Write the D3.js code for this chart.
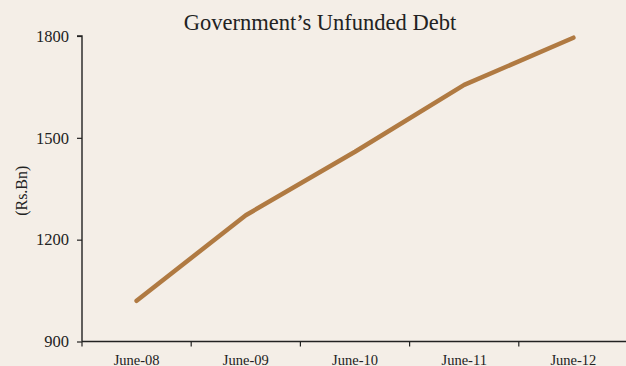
<!DOCTYPE html>
<html>
<head>
<meta charset="utf-8">
<script src="https://cdn.jsdelivr.net/npm/d3@7"></script>
<style>
  html, body { margin: 0; padding: 0; background: #f4eee7; }
  svg { display: block; }
  text { font-family: "Liberation Serif", "Times New Roman", serif; fill: #222; }
</style>
</head>
<body>
<svg id="chart" width="626" height="366"></svg>
<script>
// Government's unfunded debt, Rs. billions, at end-June
const periods = ["June-08", "June-09", "June-10", "June-11", "June-12"];
const debt = [1020, 1272, 1459, 1656, 1795];
const yTicks = [900, 1200, 1500, 1800];

const W = 626, H = 366;
const plotLeft = 82, plotRight = 628, plotTop = 36, plotBottom = 341.5;

const svg = d3.select("#chart");
svg.append("rect").attr("width", W).attr("height", H).attr("fill", "#f4eee7");

const x = d3.scaleBand().domain(periods).range([plotLeft, plotRight]);
const y = d3.scaleLinear().domain([900, 1800]).range([plotBottom, plotTop]);

// Title
svg.append("text")
  .attr("x", 320).attr("y", 30)
  .attr("text-anchor", "middle")
  .style("font-size", "22.5px")
  .text("Government’s Unfunded Debt");

// Y axis
const yAxis = svg.append("g")
  .attr("transform", `translate(${plotLeft},0)`)
  .call(d3.axisLeft(y).tickValues(yTicks).tickSize(5).tickPadding(8).tickFormat(d3.format("d")));
yAxis.select(".domain").attr("stroke", "#222").attr("stroke-width", 1.4).attr("d", `M-5,${plotTop}H0V${plotBottom}`);
yAxis.selectAll(".tick line").attr("stroke", "#222").attr("stroke-width", 1.2);
yAxis.selectAll("text").style("font-size", "16.5px").style("font-family", "Liberation Serif, serif").attr("fill", "#222");

// X axis: labels centred in each band, ticks at band boundaries
const xAxis = svg.append("g")
  .attr("transform", `translate(0,${plotBottom})`)
  .call(d3.axisBottom(x).tickSize(0).tickPadding(12));
xAxis.select(".domain").attr("stroke", "#222").attr("stroke-width", 1.4).attr("d", `M${plotLeft},0H${W}`);
xAxis.selectAll("text")
  .style("font-size", "14.5px").style("font-family", "Liberation Serif, serif").attr("fill", "#222")
  .attr("dy", null).attr("y", 23);
xAxis.selectAll(".bound")
  .data(periods)
  .enter().append("line")
  .attr("class", "bound")
  .attr("x1", d => x(d)).attr("x2", d => x(d))
  .attr("y1", 0).attr("y2", 5)
  .attr("stroke", "#222").attr("stroke-width", 1.2);

// Y axis title
svg.append("text")
  .attr("transform", `translate(27,${(plotTop + plotBottom) / 2 + 2}) rotate(-90)`)
  .attr("text-anchor", "middle")
  .style("font-size", "16px")
  .text("(Rs.Bn)");

// Debt line
const line = d3.line()
  .x((d, i) => x(periods[i]) + x.bandwidth() / 2)
  .y(d => y(d));

svg.append("path")
  .datum(debt)
  .attr("d", line)
  .attr("fill", "none")
  .attr("stroke", "#b07a42")
  .attr("stroke-width", 4.5)
  .attr("stroke-linecap", "round")
  .attr("stroke-linejoin", "round");
</script>
</body>
</html>
